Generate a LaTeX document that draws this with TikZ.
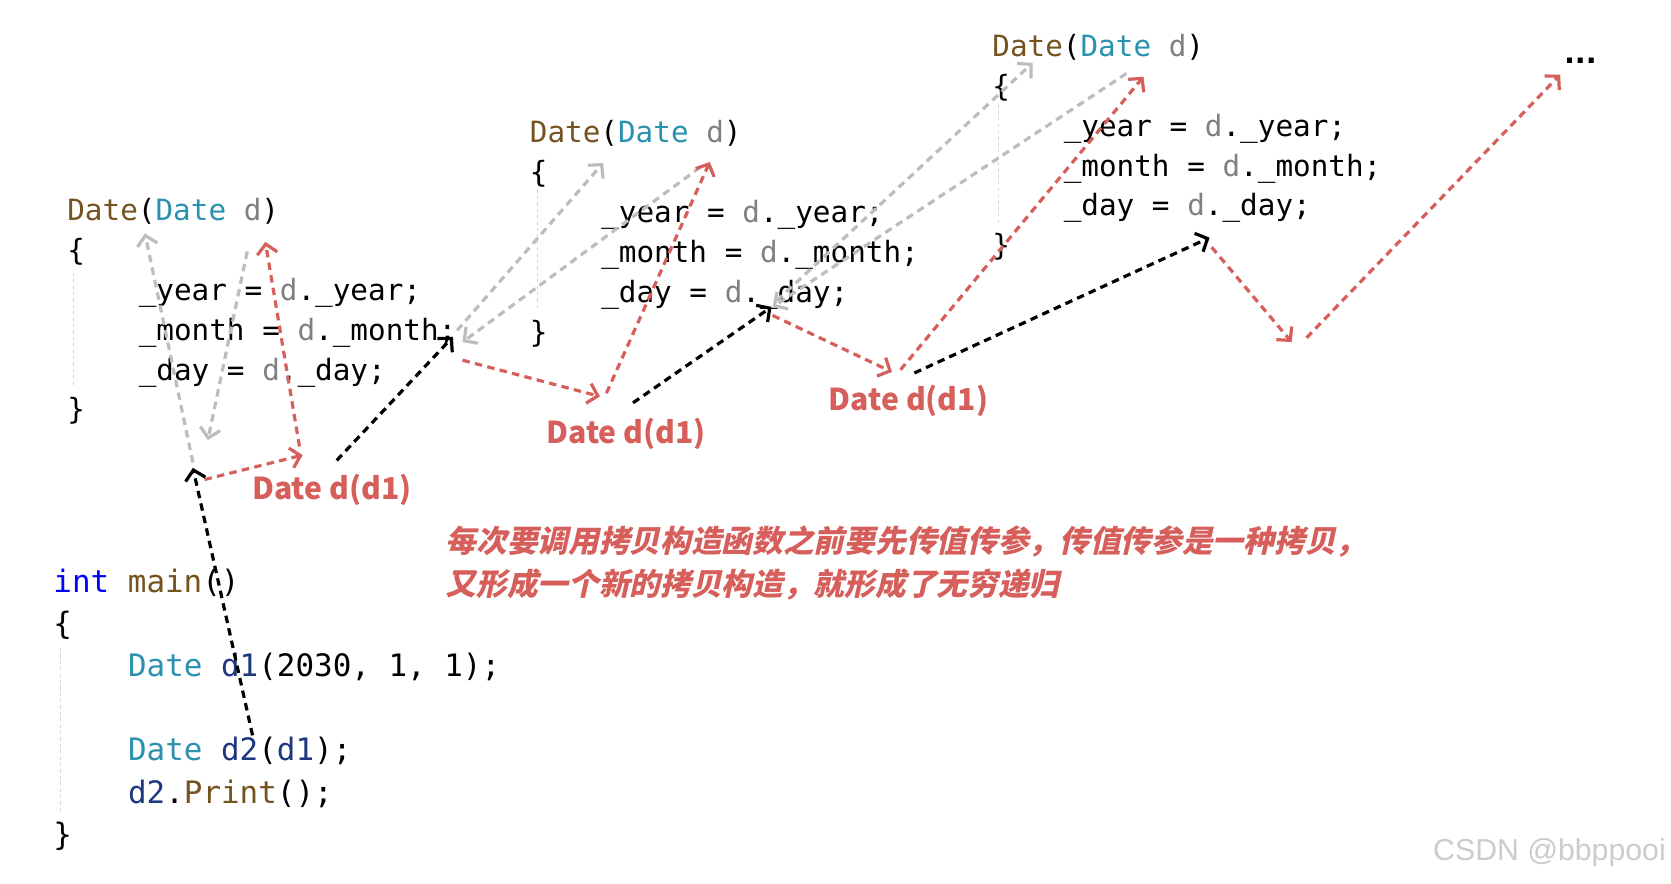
\documentclass[tikz,border=0pt]{standalone}
\usepackage{fontspec}
\usetikzlibrary{arrows.meta}
\newfontfamily\codefont{DejaVu Sans Mono}
\newfontfamily\cjkfont{Noto Sans CJK SC}
\newfontfamily\cjkslant{Noto Sans CJK SC}[FakeSlant=0.22]
\newfontfamily\wmfont{Liberation Sans}
\newfontfamily\dotsfont{DejaVu Sans}
\definecolor{fnbrown}{HTML}{74531F}
\definecolor{typeteal}{HTML}{2B91AF}
\definecolor{parmgray}{HTML}{808080}
\definecolor{localnavy}{HTML}{1F377F}
\definecolor{kwblue}{HTML}{0000FF}
\definecolor{myred}{HTML}{D65F5B}
\definecolor{arrgray}{HTML}{BDBDBD}
\definecolor{guidegray}{HTML}{D4D4D4}
\definecolor{wmgray}{HTML}{CCCCCC}
\tikzset{
  code/.style={anchor=base west, inner sep=0pt, font=\codefont\fontsize{27.5}{27.5}\selectfont},
  maincode/.style={anchor=base west, inner sep=0pt, font=\codefont\fontsize{29}{29}\selectfont},
  guide/.style={draw=guidegray, line width=1pt, dash pattern=on 3pt off 3pt},
  arrbase/.style={line width=3pt, dash pattern=on 7pt off 5pt, -{Straight Barb[length=9pt,width=19pt]}},
  blackarr/.style={arrbase, draw=black},
  redarr/.style={arrbase, draw=myred},
  grayarr/.style={arrbase, draw=arrgray},
  lbl/.style={inner sep=0pt, text=myred, font=\cjkfont\bfseries\fontsize{28.3}{28.3}\selectfont},
  cjktext/.style={anchor=base west, inner sep=0pt, text=myred, font=\cjkslant\bfseries\fontsize{28.8}{28.8}\selectfont},
}
\newcommand\ctorblock[3]{%
  \node[code] (#1h) at (#2,#3) {\textcolor{fnbrown}{Date}(\textcolor{typeteal}{Date} \textcolor{parmgray}{d})};
  \node[code] (#1o) at (#2,#3+37.4) {\{};
  \node[code] (#1y) at (#2+67,#3+74.8) {\_year = \textcolor{parmgray}{d}.\_year;};
  \node[code] (#1m) at (#2+67,#3+112.2) {\_month = \textcolor{parmgray}{d}.\_month;};
  \node[code] (#1d) at (#2+67,#3+149.6) {\_day = \textcolor{parmgray}{d}.\_day;};
  \node[code] (#1c) at (#2,#3+187) {\}};
}
\begin{document}
\begin{tikzpicture}[x=1pt,y=-1pt]
\useasboundingbox (0,0) rectangle (1568,829);
\fill[white] (0,0) rectangle (1568,829);

% code blocks
\ctorblock{a}{63}{207}
\ctorblock{b}{497}{134}
\ctorblock{c}{931}{53}
\draw[guide] (69,256) -- (69,361);
\draw[guide] (504,178) -- (504,291);
\draw[guide] (937,98) -- (937,211);

% main
\node[maincode] (m1) at (50,556) {\textcolor{kwblue}{int} \textcolor{fnbrown}{main}()};
\node[maincode] (m2) at (50,595.5) {\{};
\node[maincode] (m3) at (120,635) {\textcolor{typeteal}{Date} \textcolor{localnavy}{d1}(2030, 1, 1);};
\node[maincode] (m4) at (120,714) {\textcolor{typeteal}{Date} \textcolor{localnavy}{d2}(\textcolor{localnavy}{d1});};
\node[maincode] (m5) at (120,753.5) {\textcolor{localnavy}{d2}.\textcolor{fnbrown}{Print}();};
\node[maincode] (m6) at (50,793) {\}};
\draw[guide] (57,608) -- (57,762);

\node[font=\dotsfont\bfseries\fontsize{27}{27}\selectfont, anchor=base, inner sep=0pt] (dots) at (1483,60) {...};

% labels
\node[lbl] (l1) at (311.5,460) {Date d(d1)};
\node[lbl] (l2) at (587.5,407) {Date d(d1)};
\node[lbl] (l3) at (852.5,376) {Date d(d1)};

\node[cjktext] (t1) at (418,518) {每次要调用拷贝构造函数之前要先传值传参，传值传参是一种拷贝，};
\node[cjktext] (t2) at (418,559) {又形成一个新的拷贝构造，就形成了无穷递归};

\node[font=\wmfont\fontsize{28.4}{28.4}\selectfont, text=wmgray, inner sep=0pt] (wm) at (1454,800) {CSDN @bbppooi};

% arrow end points
\coordinate (b1s) at (237,690); \coordinate (b1e) at (181,439);
\coordinate (b2s) at (316,432); \coordinate (b2e) at (425,316);
\coordinate (b3s) at (594,378); \coordinate (b3e) at (724,288);
\coordinate (b4s) at (858,350); \coordinate (b4e) at (1135,223);
\coordinate (r1s) at (192,450); \coordinate (r1e) at (284,427);
\coordinate (r2s) at (281,419); \coordinate (r2e) at (249,227);
\coordinate (r3s) at (434,338); \coordinate (r3e) at (563,372);
\coordinate (r4s) at (569,369); \coordinate (r4e) at (666,152);
\coordinate (r5s) at (725,296); \coordinate (r5e) at (837,349);
\coordinate (r6s) at (845,347); \coordinate (r6e) at (1073,72);
\coordinate (r7s) at (1137,232); \coordinate (r7e) at (1212,321);
\coordinate (r8s) at (1226,317); \coordinate (r8e) at (1464,70);
\coordinate (g1s) at (181,434); \coordinate (g1e) at (136,219);
\coordinate (g2s) at (232,236); \coordinate (g2e) at (195,413);
\coordinate (g3s) at (429,310); \coordinate (g3e) at (566,153);
\coordinate (g4s) at (657,157); \coordinate (g4e) at (434,321);
\coordinate (g5s) at (729,282); \coordinate (g5e) at (969,59);
\coordinate (g6s) at (1057,69); \coordinate (g6e) at (725,288);

\foreach \n in {g1,g2,g3,g4,g5,g6} \draw[grayarr] (\n s) -- (\n e);
\foreach \n in {r1,r2,r3,r4,r5,r6,r7,r8} \draw[redarr] (\n s) -- (\n e);
\foreach \n in {b1,b2,b3,b4} \draw[blackarr] (\n s) -- (\n e);
\end{tikzpicture}
\end{document}
